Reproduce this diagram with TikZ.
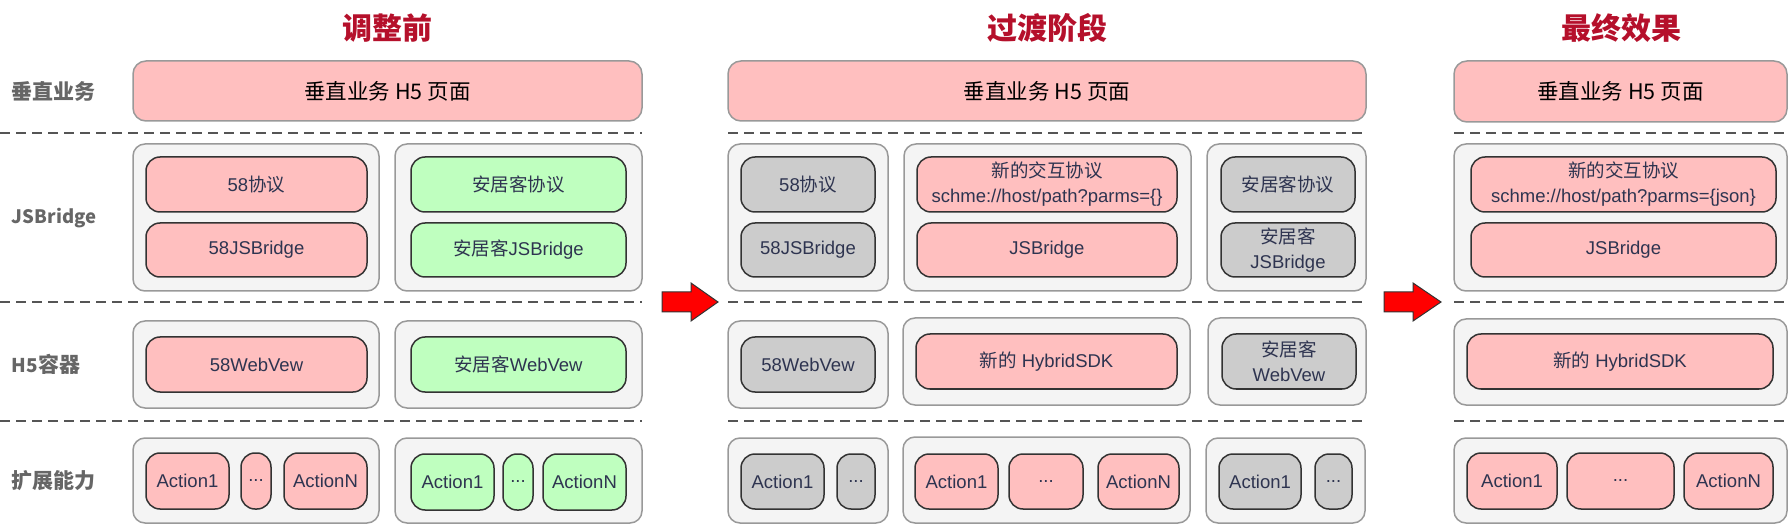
\documentclass[tikz,border=0pt]{standalone}
\usepackage{fontspec}
\setmainfont{Liberation Sans}
\newfontfamily\zh{Noto Sans CJK SC}
\definecolor{pinkf}{HTML}{FFBFBF}
\definecolor{greenf}{HTML}{BFFFBF}
\definecolor{grayf}{HTML}{CCCCCC}
\definecolor{contf}{HTML}{F4F4F4}
\definecolor{contb}{HTML}{999999}
\definecolor{innb}{HTML}{333333}
\definecolor{txt}{HTML}{2E3450}
\definecolor{ttl}{HTML}{B5102B}
\definecolor{lbl}{HTML}{666666}
\definecolor{dashc}{HTML}{555555}
\newcommand\bx[7]{\node[#6, minimum width={#4-#2}, minimum height={#5-#3}] (#1) at ({(#2+#4)/2},{(#3+#5)/2}) {#7};}
\tikzset{
  every node/.style={inner sep=0pt, outer sep=0pt},
  cont/.style={draw=contb, fill=contf, rounded corners=12pt, line width=1.5pt},
  inbox/.style={draw=innb, line width=1.5pt, rounded corners=14pt, text=txt, font=\fontsize{18.5}{25}\selectfont, align=center},
  pk/.style={inbox, fill=pinkf},
  gr/.style={inbox, fill=greenf},
  gy/.style={inbox, fill=grayf},
  topbox/.style={draw=contb, fill=pinkf, rounded corners=13pt, line width=1.5pt, text=black, font=\zh\fontsize{21.5}{25}\selectfont},
  ttlst/.style={text=ttl, font=\zh\bfseries\fontsize{30}{34}\selectfont},
  lblst/.style={text=lbl, anchor=west, font=\zh\bfseries\fontsize{21}{25}\selectfont},
  sepline/.style={draw=dashc, line width=2pt, dash pattern=on 10pt off 6pt},
  redarrow/.style={fill=red, draw=innb, line width=1pt}
}
\begin{document}
\begin{tikzpicture}[x=1pt,y=-1pt]
\useasboundingbox (0,0) rectangle (1788,526);
% row labels
\node[lblst] (l0) at (12,91) {垂直业务};
\node[lblst, font=\zh\bfseries\fontsize{18.5}{25}\selectfont] (l1) at (12,218) {JSBridge};
\node[lblst] (l2) at (12,364) {{\fontsize{19}{25}\selectfont H5}容器};
\node[lblst] (l3) at (12,481) {扩展能力};
% dashed separators
\foreach \yy in {133,302,421}{
  \draw[sepline] (0,\yy) -- (642,\yy);
  \draw[sepline] (728,\yy) -- (1366,\yy);
  \draw[sepline] (1454,\yy) -- (1788,\yy);
}
% ---------------- Section 1
\node[ttlst] (t1) at (387,28) {调整前};
\bx{a0}{133}{61}{642}{121}{topbox}{垂直业务 H5 页面}
\bx{a1c1}{133}{144}{379}{291}{cont}{}
\bx{a1c2}{395}{144}{642}{291}{cont}{}
\bx{a11}{146}{157}{367}{212}{pk}{58{\zh 协议}}
\bx{a12}{146}{223}{367}{277}{pk}{58JSBridge}
\bx{a13}{411}{157}{626}{212}{gr}{\zh 安居客协议}
\bx{a14}{411}{223}{626}{277}{gr}{{\zh 安居客}JSBridge}
\bx{a2c1}{133}{321}{379}{408}{cont}{}
\bx{a2c2}{395}{321}{642}{408}{cont}{}
\bx{a21}{146}{337}{367}{392}{pk}{58WebVew}
\bx{a22}{411}{337}{626}{392}{gr}{{\zh 安居客}WebVew}
\bx{a3c1}{133}{438}{379}{523}{cont}{}
\bx{a3c2}{395}{438}{642}{523}{cont}{}
\bx{a31}{146}{453}{229}{509}{pk}{Action1}
\bx{a32}{241}{453}{271}{509}{pk}{...}
\bx{a33}{284}{453}{367}{509}{pk}{ActionN}
\bx{a34}{411}{454}{494}{510}{gr}{Action1}
\bx{a35}{503}{454}{533}{510}{gr}{...}
\bx{a36}{543}{454}{626}{510}{gr}{ActionN}
% arrow 1
\draw[redarrow] (662,292) -- (691,292) -- (691,283) -- (718,302) -- (691,321) -- (691,312) -- (662,312) -- cycle;
% ---------------- Section 2
\node[ttlst] (t2) at (1047,28) {过渡阶段};
\bx{b0}{728}{61}{1366}{121}{topbox}{垂直业务 H5 页面}
\bx{b1c1}{728}{144}{888}{291}{cont}{}
\bx{b1c2}{904}{144}{1191}{291}{cont}{}
\bx{b1c3}{1207}{144}{1366}{291}{cont}{}
\bx{b11}{741}{157}{875}{212}{gy}{58{\zh 协议}}
\bx{b12}{741}{223}{875}{277}{gy}{58JSBridge}
\bx{b13}{917}{157}{1177}{212}{pk}{{\zh 新的交互协议}\\schme://host/path?parms=\{\}}
\bx{b14}{917}{223}{1177}{277}{pk}{JSBridge}
\bx{b15}{1221}{157}{1355}{212}{gy}{\zh 安居客协议}
\bx{b16}{1221}{223}{1355}{277}{gy}{{\zh 安居客}\\JSBridge}
\bx{b2c1}{728}{321}{888}{408}{cont}{}
\bx{b2c2}{903}{318}{1190}{405}{cont}{}
\bx{b2c3}{1208}{318}{1366}{405}{cont}{}
\bx{b21}{741}{337}{875}{392}{gy}{58WebVew}
\bx{b22}{916}{334}{1177}{389}{pk}{{\zh 新的} HybridSDK}
\bx{b23}{1222}{334}{1356}{389}{gy}{{\zh 安居客}\\WebVew}
\bx{b3c1}{728}{438}{888}{523}{cont}{}
\bx{b3c2}{903}{437}{1190}{523}{cont}{}
\bx{b3c3}{1206}{438}{1365}{523}{cont}{}
\bx{b31}{741}{454}{824}{509}{gy}{Action1}
\bx{b32}{837}{454}{875}{509}{gy}{...}
\bx{b33}{915}{454}{998}{509}{pk}{Action1}
\bx{b34}{1009}{454}{1083}{509}{pk}{...}
\bx{b35}{1098}{454}{1179}{509}{pk}{ActionN}
\bx{b36}{1219}{454}{1301}{509}{gy}{Action1}
\bx{b37}{1315}{454}{1352}{509}{gy}{...}
% arrow 2
\draw[redarrow] (1384,292) -- (1413,292) -- (1413,283) -- (1441,302) -- (1413,321) -- (1413,312) -- (1384,312) -- cycle;
% ---------------- Section 3
\node[ttlst] (t3) at (1621,28) {最终效果};
\bx{c0}{1454}{61}{1787}{122}{topbox}{垂直业务 H5 页面}
\bx{c1c}{1454}{144}{1787}{291}{cont}{}
\bx{c11}{1471}{157}{1776}{212}{pk}{{\zh 新的交互协议}\\schme://host/path?parms=\{json\}}
\bx{c12}{1471}{223}{1776}{277}{pk}{JSBridge}
\bx{c2c}{1454}{319}{1787}{405}{cont}{}
\bx{c21}{1467}{334}{1773}{389}{pk}{{\zh 新的} HybridSDK}
\bx{c3c}{1454}{438}{1787}{523}{cont}{}
\bx{c31}{1467}{453}{1557}{509}{pk}{Action1}
\bx{c32}{1567}{453}{1674}{509}{pk}{...}
\bx{c33}{1684}{453}{1773}{509}{pk}{ActionN}
\end{tikzpicture}
\end{document}
